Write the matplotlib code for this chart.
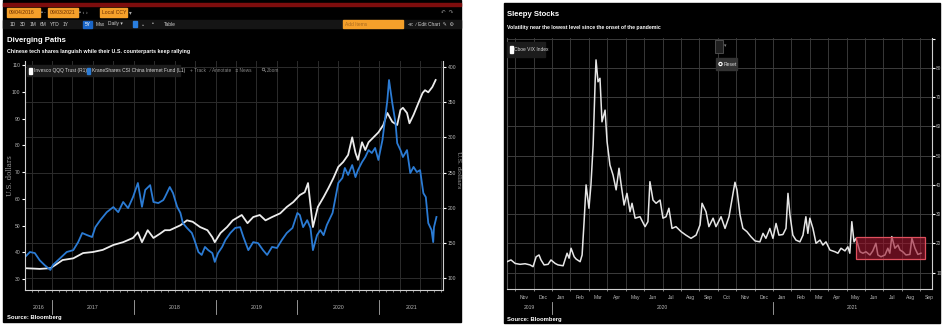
import matplotlib
matplotlib.use("Agg")
import matplotlib.pyplot as plt
from matplotlib.patches import Rectangle, Circle
from matplotlib import transforms
import numpy as np

W, H = 946, 328
FONT = ['Liberation Sans Narrow', 'Liberation Sans', 'DejaVu Sans']
plt.rcParams['font.family'] = FONT

# ---- KraneShares CSI China Internet Fund (left axis, USD)
kweb_t = [2016.67, 2016.73, 2016.79, 2016.85, 2016.91, 2016.98, 2017.01, 2017.10, 2017.18, 2017.26,
          2017.32, 2017.37, 2017.43, 2017.49, 2017.53, 2017.59, 2017.67, 2017.75, 2017.81, 2017.87,
          2017.93, 2017.99, 2018.05, 2018.10, 2018.14, 2018.20, 2018.24, 2018.30, 2018.36, 2018.38,
          2018.44, 2018.48, 2018.53, 2018.57, 2018.60, 2018.65, 2018.71, 2018.75, 2018.79, 2018.83,
          2018.87, 2018.91, 2018.96, 2018.99, 2019.03, 2019.08, 2019.12, 2019.18, 2019.24, 2019.30,
          2019.34, 2019.40, 2019.46, 2019.52, 2019.58, 2019.63, 2019.69, 2019.75, 2019.81, 2019.87,
          2019.94, 2020.00, 2020.03, 2020.07, 2020.12, 2020.16, 2020.19, 2020.24, 2020.28, 2020.32,
          2020.36, 2020.43, 2020.46, 2020.50, 2020.55, 2020.58, 2020.62, 2020.67, 2020.71, 2020.74,
          2020.79, 2020.83, 2020.87, 2020.91, 2020.95, 2020.99, 2021.04, 2021.07, 2021.10, 2021.12,
          2021.16, 2021.20, 2021.22, 2021.26, 2021.29, 2021.34, 2021.38, 2021.42, 2021.46, 2021.50,
          2021.54, 2021.57, 2021.60, 2021.64, 2021.66, 2021.67, 2021.70]
kweb_px = [38.2, 40.1, 39.7, 37.0, 35.2, 33.4, 35.2, 37.8, 40.1, 40.8,
           43.8, 47.2, 46.4, 45.7, 49.4, 52.0, 55.0, 56.9, 55.0, 58.8,
           56.5, 60.6, 65.9, 57.0, 63.3, 65.1, 58.8, 58.4, 59.5, 60.6,
           64.4, 62.1, 57.0, 54.7, 50.9, 49.1, 47.2, 43.8, 40.1, 39.0,
           42.0, 40.8, 39.7, 36.4, 39.7, 42.0, 44.6, 47.2, 49.1, 49.4,
           45.7, 40.8, 43.8, 43.4, 40.8, 39.0, 42.0, 41.6, 44.6, 47.2,
           49.1, 54.7, 53.9, 49.4, 52.0, 49.1, 40.8, 46.4, 48.3, 46.4,
           50.2, 54.7, 59.5, 65.9, 67.8, 71.5, 68.9, 72.6, 68.1, 70.7,
           73.7, 75.6, 78.2, 77.1, 79.0, 74.5, 82.0, 89.4, 96.9, 104.4,
           95.8, 88.3, 80.8, 78.2, 75.6, 78.2, 69.6, 71.9, 70.0, 70.7,
           62.1, 60.6, 50.9, 48.3, 43.8, 49.4, 53.2]

# ---- Invesco QQQ Trust (right axis, USD)
qqq_t = [2016.67, 2016.85, 2016.98, 2017.04, 2017.13, 2017.26, 2017.38, 2017.50, 2017.62, 2017.75,
         2017.87, 2017.99, 2018.05, 2018.10, 2018.17, 2018.24, 2018.32, 2018.38, 2018.44, 2018.57,
         2018.65, 2018.72, 2018.81, 2018.90, 2018.96, 2018.99, 2019.06, 2019.14, 2019.21, 2019.32,
         2019.39, 2019.46, 2019.54, 2019.61, 2019.69, 2019.79, 2019.87, 2019.95, 2020.03, 2020.09,
         2020.13, 2020.19, 2020.25, 2020.32, 2020.38, 2020.44, 2020.50, 2020.56, 2020.62, 2020.67,
         2020.71, 2020.74, 2020.79, 2020.83, 2020.87, 2020.93, 2020.99, 2021.05, 2021.10, 2021.16,
         2021.22, 2021.26, 2021.29, 2021.34, 2021.37, 2021.42, 2021.48, 2021.53, 2021.56, 2021.60,
         2021.65, 2021.69]
qqq_px = [114, 113, 114, 118.5, 125.6, 128, 135.5, 137, 140, 147,
          151, 157, 165, 151, 168, 157, 163, 168, 168, 175,
          182, 180, 172.5, 168, 158, 151, 164, 172.5, 182, 189.6,
          178, 186.7, 189.6, 182, 186.7, 192, 201, 208, 218, 222,
          235, 172.5, 201, 215, 228, 242, 258, 265, 275, 300,
          278, 268, 293, 282, 293, 300, 307, 317.5, 334.6, 322,
          317.5, 339, 342, 334.6, 320, 332, 349, 363, 367, 364,
          371.6, 381.5]

years_left = [2016, 2017, 2018, 2019, 2020, 2021]
left_ticks = [30, 40, 50, 60, 70, 80, 90, 100, 110]
right_ticks = [100, 150, 200, 250, 300, 350, 400]

# ---- Cboe VIX Index
vix_t = [2019.796, 2019.814, 2019.833, 2019.855, 2019.878, 2019.900, 2019.914, 2019.928, 2019.941, 2019.950,
         2019.964, 2019.982, 2019.995, 2020.014, 2020.027, 2020.050, 2020.068, 2020.077, 2020.086, 2020.100,
         2020.109, 2020.127, 2020.136, 2020.145, 2020.154, 2020.167, 2020.176, 2020.186, 2020.195, 2020.199,
         2020.208, 2020.217, 2020.226, 2020.240, 2020.249, 2020.262, 2020.276, 2020.290, 2020.303, 2020.312,
         2020.326, 2020.339, 2020.353, 2020.362, 2020.376, 2020.398, 2020.421, 2020.434, 2020.443, 2020.457,
         2020.471, 2020.489, 2020.502, 2020.516, 2020.529, 2020.543, 2020.561, 2020.584, 2020.606, 2020.629,
         2020.652, 2020.670, 2020.679, 2020.697, 2020.710, 2020.729, 2020.742, 2020.765, 2020.783, 2020.801,
         2020.814, 2020.828, 2020.837, 2020.851, 2020.864, 2020.882, 2020.900, 2020.919, 2020.941, 2020.955,
         2020.968, 2020.986, 2021.000, 2021.014, 2021.027, 2021.045, 2021.059, 2021.068, 2021.077, 2021.090,
         2021.104, 2021.122, 2021.136, 2021.149, 2021.158, 2021.167, 2021.181, 2021.195, 2021.213, 2021.226,
         2021.240, 2021.258, 2021.281, 2021.294, 2021.308, 2021.326, 2021.339, 2021.348, 2021.357, 2021.367,
         2021.376, 2021.394, 2021.407, 2021.421, 2021.439, 2021.452, 2021.466, 2021.475, 2021.489, 2021.507,
         2021.520, 2021.529, 2021.538, 2021.552, 2021.566, 2021.575, 2021.588, 2021.602, 2021.620, 2021.629,
         2021.643, 2021.656, 2021.670]
vix = [13.7, 14.3, 13.1, 12.8, 13.0, 12.6, 12.0, 15.4, 16.0, 14.3,
       12.6, 12.8, 14.3, 13.1, 12.6, 12.3, 16.6, 14.9, 18.3, 15.4,
       14.6, 13.7, 16.0, 27.4, 40.0, 32.0, 40.0, 53.7, 75.3, 82.8,
       75.3, 76.5, 61.6, 65.6, 54.8, 46.8, 43.4, 38.3, 45.7, 40.5,
       33.1, 37.1, 30.8, 33.7, 28.6, 29.1, 25.7, 27.4, 41.1, 34.8,
       33.7, 34.8, 28.6, 29.1, 32.0, 25.1, 25.7, 24.0, 22.8, 21.7,
       22.8, 26.3, 33.7, 30.8, 25.7, 28.6, 25.7, 29.1, 25.1, 29.1,
       34.8, 40.9, 38.3, 29.7, 25.1, 24.0, 22.3, 20.8, 20.5, 23.4,
       21.7, 25.1, 21.7, 26.8, 22.8, 23.0, 25.1, 37.1, 29.7, 22.8,
       21.1, 20.5, 22.8, 29.1, 23.4, 28.6, 25.1, 20.0, 21.1, 19.4,
       20.5, 17.7, 17.1, 16.6, 18.3, 17.4, 18.8, 16.6, 27.4, 20.5,
       21.7, 17.1, 16.6, 17.1, 16.0, 17.4, 20.0, 16.0, 15.4, 16.0,
       18.3, 16.6, 22.3, 18.3, 19.4, 17.7, 17.1, 16.0, 16.2, 21.7,
       18.3, 16.2, 16.6]
vix_ticks = [10, 20, 30, 40, 50, 60, 70, 80]
calm_box = (2021.376, 2021.688, 14.6, 22.2)   # t0, t1, low, high
months = ['Jan', 'Feb', 'Mar', 'Apr', 'May', 'Jun', 'Jul', 'Aug', 'Sep', 'Oct', 'Nov', 'Dec']

BLUE = '#2b7bd4'
GRID = '#2c2c2c'
LBL = '#b8b8b8'
AMBER = '#f5a02a'


def fr(x0, y0, x1, y1):
    # pixel box (top-left origin) -> figure fraction rect
    return [x0 / W, 1 - y1 / H, (x1 - x0) / W, (y1 - y0) / H]


fig = plt.figure(figsize=(W / 100, H / 100), dpi=100, facecolor='white')

# background layer in pixel coordinates
bg = fig.add_axes([0, 0, 1, 1], zorder=0)
bg.set_xlim(0, W)
bg.set_ylim(H, 0)
bg.axis('off')
bg.add_patch(Rectangle((3, 0), 458, 322, color='black'))
bg.add_patch(Rectangle((504, 3), 436, 320, color='black'))

# overlay layer for header widgets and legends
ov = fig.add_axes([0, 0, 1, 1], zorder=10)
ov.set_xlim(0, W)
ov.set_ylim(H, 0)
ov.axis('off')
ov.patch.set_alpha(0)


def txt(x, y, s, size=4.5, color='white', weight='normal', **kw):
    ov.text(x, y, s, fontsize=size, color=color, fontweight=weight, va='center', ha=kw.pop('ha', 'left'),
            family=FONT, **kw)


# ----- left header
ov.add_patch(Rectangle((3, 3), 458, 3, color='#7d0d0d'))
for x0, x1, s in [(7, 40, '09/04/2016'), (48, 78, '09/03/2021'), (100, 127, 'Local CCY')]:
    ov.add_patch(Rectangle((x0, 8), x1 - x0, 9, color=AMBER))
    txt(x0 + 1.5, 12.6, s, size=3.7, color='#6a2c00')
txt(41, 12.6, '▪', size=4, color='#aaaaaa')
txt(43.5, 12.6, '-', size=4, color='#aaaaaa')
txt(79, 12.6, '▪ ‹ ›', size=4, color='#aaaaaa')
txt(129, 12.6, '▾', size=4, color='#aaaaaa')
txt(441, 12.6, '↶  ↷', size=4, color='#888888')
ov.add_patch(Rectangle((3, 20), 458, 8, color='#151515'))
for x, s in [(10, '1D'), (20, '3D'), (30, '1M'), (40, '6M'), (50, 'YTD'), (63, '1Y'), (96, 'Max'), (108, 'Daily ▾'),
             (141, '⌄'), (152, '•'), (164, 'Table')]:
    txt(x, 24, s, size=3.5, color='#d0d0d0')
ov.add_patch(Rectangle((83, 20.5), 9, 7, color='#1a66c8'))
txt(84.5, 24, '5Y', size=3.5, color='white')
ov.add_patch(Rectangle((133, 21), 4, 6, color='#2a7fe0'))
ov.add_patch(Rectangle((343, 20), 60, 8, color=AMBER))
txt(345, 24, 'Add Items', size=3.5, color='#a86a20')
txt(408, 24, '≪  ∕ Edit Chart  ✎  ⚙', size=3.5, color='#d0d0d0')

txt(7, 40, 'Diverging Paths', size=5.6, weight='bold')
txt(7, 51.5, 'Chinese tech shares languish while their U.S. counterparts keep rallying', size=3.8, weight='bold')

ov.add_patch(Rectangle((27, 65), 153, 11, color='#1c1c1c'))
ov.add_patch(Rectangle((29, 67.5), 3, 6, color='white'))
txt(33.5, 70.5, 'Invesco QQQ Trust (R1)', size=3.5, color='#d8d8d8')
ov.add_patch(Rectangle((87, 67.5), 3, 6, color=BLUE))
txt(91.5, 70.5, 'KraneShares CSI China Internet Fund (L1)', size=3.5, color='#d8d8d8')
txt(190, 70, '+ Track   ⁄ Annotate   ≡ News', size=3.4, color='#8a8a8a')
ov.add_patch(Circle((263.5, 69.5), 1.3, facecolor='none', edgecolor='#8a8a8a', lw=0.5))
ov.plot([264.5, 265.8], [70.5, 71.8], color='#8a8a8a', lw=0.5)
txt(267, 70, 'Zoom', size=3.4, color='#8a8a8a')

txt(7, 318, 'Source: Bloomberg', size=4.2, weight='bold')
ov.text(10, 176, 'U.S. dollars', rotation=90, fontsize=5.0, color='#9a9a9a', family='DejaVu Serif',
        va='center', ha='center')
ov.text(458.5, 170, 'U.S. dollars', rotation=270, fontsize=4.6, color='#9a9a9a', family='DejaVu Serif',
        va='center', ha='center')

# ----- right header
txt(507, 14, 'Sleepy Stocks', size=5.6, weight='bold')
txt(507, 27, 'Volatility near the lowest level since the onset of the pandemic', size=3.7, weight='bold')
ov.add_patch(Rectangle((507, 42), 38, 15, color='#1c1c1c'))
ov.add_patch(Rectangle((510, 46), 3, 7, color='white'))
txt(514, 49.5, 'Cboe VIX Index', size=3.5, color='#d8d8d8')
ov.add_patch(Rectangle((715, 40), 8, 13, facecolor='#202020', edgecolor='#555555', lw=0.6))
txt(724, 46, '▾', size=3.5, color='#888888')
ov.add_patch(Rectangle((716, 58), 21, 12, color='#333333'))
ov.add_patch(Circle((720.5, 64), 2.2, facecolor='white', edgecolor='none'))
ov.add_patch(Circle((720.5, 64), 1.0, facecolor='#333333', edgecolor='none'))
txt(724, 64, 'Reset', size=3.6, color='#d8d8d8')
txt(507, 319, 'Source: Bloomberg', size=4.2, weight='bold')

# ----- left chart: QQQ on the main axes (right ticks), KWEB on a twin (left ticks)
axq = fig.add_axes(fr(25, 61, 443, 290), zorder=2)
axq.set_facecolor('none')
axq.set_xlim(2016.67, 2021.78)
axq.set_ylim(83, 408.5)
for q in np.arange(2016.75, 2021.8, 0.25):
    axq.axvline(q, color=GRID, lw=0.7, zorder=0)
for v in right_ticks:
    axq.axhline(v, color=GRID, lw=0.7, zorder=0)
axq.plot(qqq_t, qqq_px, color='#ececec', lw=1.3, zorder=3)

axk = axq.twinx()
axk.set_zorder(3)
axk.patch.set_alpha(0)
axk.set_ylim(25.9, 111.5)
axk.plot(kweb_t, kweb_px, color=BLUE, lw=1.3)

axq.yaxis.tick_right()
axq.set_yticks(right_ticks)
axq.set_yticklabels([str(v) for v in right_ticks])
axk.yaxis.tick_left()
axk.set_yticks(left_ticks)
axk.set_yticklabels([str(v) for v in left_ticks])

for a in (axq, axk):
    a.tick_params(axis='y', length=2, width=0.8, color='white', labelsize=3.6, labelcolor=LBL, pad=1.5)
    for s in a.spines.values():
        s.set_visible(False)
axk.spines['left'].set_visible(True)
axk.spines['left'].set_color('#cfcfcf')
axk.spines['left'].set_linewidth(0.8)
axq.spines['right'].set_visible(True)
axq.spines['right'].set_color('#cfcfcf')
axq.spines['right'].set_linewidth(0.8)
axq.spines['bottom'].set_visible(True)
axq.spines['bottom'].set_color('#cfcfcf')
axq.spines['bottom'].set_linewidth(0.8)

axq.set_xticks(np.arange(2016.75, 2021.78, 1 / 12))
axq.tick_params(axis='x', length=1.5, width=0.5, color='#bbbbbb', labelbottom=False)
tb = transforms.blended_transform_factory(axq.transData, axq.transAxes)
edges = [2016.67] + years_left[1:] + [2021.78]
for i, yr in enumerate(years_left):
    if i > 0:
        axq.plot([yr, yr], [-0.045, -0.105], color='#aaaaaa', lw=0.6, transform=tb, clip_on=False)
    axq.text((edges[i] + edges[i + 1]) / 2, -0.075, str(yr), transform=tb, fontsize=3.8, color=LBL,
             ha='center', va='center', family=FONT)

# ----- right chart
axv = fig.add_axes(fr(507, 38, 932, 289), zorder=2)
axv.set_facecolor('none')
axv.set_xlim(2019.796, 2021.72)
axv.set_ylim(4.35, 90.3)
month_edges = [2019 + 10 / 12 + i / 12 for i in range(23)]
for m in month_edges:
    axv.axvline(m, color='#383838', lw=0.7, zorder=0)
for v in vix_ticks + [90]:
    axv.axhline(v, color='#3c3c3c', lw=0.7, zorder=0)
axv.plot(vix_t, vix, color='#e6e6e6', lw=1.1, zorder=3)
t0, t1, lo, hi = calm_box
axv.add_patch(Rectangle((t0, lo), t1 - t0, hi - lo, facecolor='#a01830', alpha=0.62, edgecolor='none', zorder=4))
axv.add_patch(Rectangle((t0, lo), t1 - t0, hi - lo, facecolor='none', edgecolor='#e0505e', lw=0.9, zorder=5))
axv.yaxis.tick_right()
axv.set_yticks(vix_ticks + [90])
axv.set_yticklabels([str(v) for v in vix_ticks] + [''])
axv.tick_params(axis='y', length=2, width=0.8, color='white', labelsize=3.4, labelcolor=LBL, pad=1)
axv.set_xticks(month_edges)
axv.tick_params(axis='x', length=1.5, width=0.5, color='#bbbbbb', labelbottom=False)
for name, s in axv.spines.items():
    s.set_visible(name in ('right', 'bottom', 'left'))
    s.set_color('#cfcfcf' if name != 'left' else '#555555')
    s.set_linewidth(0.8)
tv = transforms.blended_transform_factory(axv.transData, axv.transAxes)
for i in range(len(month_edges)):
    mid = month_edges[i] + 1 / 24
    axv.text(mid, -0.032, months[(10 + i) % 12], transform=tv, fontsize=3.6, color=LBL,
             ha='center', va='center', family=FONT)
yr_edges = [2019.796, 2020, 2021, 2021.72]
for i, yr in enumerate([2019, 2020, 2021]):
    if i > 0:
        axv.plot([yr, yr], [-0.05, -0.10], color='#aaaaaa', lw=0.6, transform=tv, clip_on=False)
    axv.text((yr_edges[i] + yr_edges[i + 1]) / 2, -0.075, str(yr), transform=tv, fontsize=3.6, color=LBL,
             ha='center', va='center', family=FONT)

fig.savefig('out.png', dpi=100, facecolor='white')
